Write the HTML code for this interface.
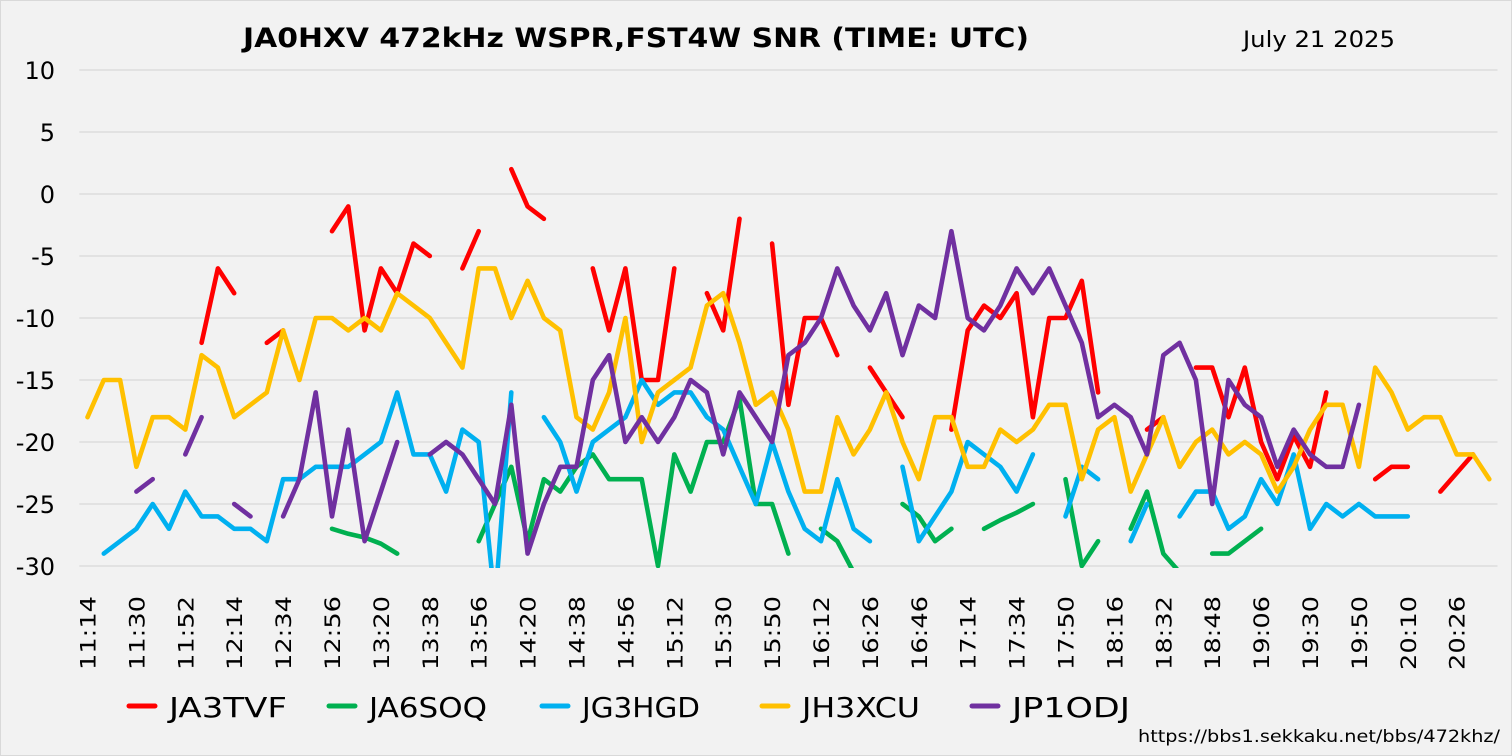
<!DOCTYPE html>
<html><head><meta charset="utf-8"><style>
html,body{margin:0;padding:0;background:#f2f2f2;}
svg{display:block;font-family:"DejaVu Sans","Liberation Sans",sans-serif;}
</style></head><body>
<svg id="chart" width="1512" height="756" viewBox="0 0 1512 756" xmlns="http://www.w3.org/2000/svg">
<rect x="0.5" y="0.5" width="1511" height="755" fill="#f2f2f2" stroke="#d9d9d9"/>
<text x="636" y="47" text-anchor="middle" font-size="27" font-weight="bold" textLength="786" lengthAdjust="spacingAndGlyphs">JA0HXV 472kHz WSPR,FST4W SNR (TIME: UTC)</text>
<text x="1243" y="47" font-size="22" textLength="152" lengthAdjust="spacingAndGlyphs">July 21 2025</text>
<text x="1138" y="742" font-size="17" textLength="362" lengthAdjust="spacingAndGlyphs">https://bbs1.sekkaku.net/bbs/472khz/</text>
<g id="grid"></g><g id="yticks"></g><g id="xticks"></g><g id="series"></g><g id="legend"></g>
</svg>
<script>
const tickLabels=["11:14","11:30","11:52","12:14","12:34","12:56","13:20","13:38","13:56","14:20","14:38","14:56","15:12","15:30","15:50","16:12","16:26","16:46","17:14","17:34","17:50","18:16","18:32","18:48","19:06","19:30","19:50","20:10","20:26"];
const yTicks=[10,5,0,-5,-10,-15,-20,-25,-30];
const seriesNames=["JA3TVF","JA6SOQ","JG3HGD","JH3XCU","JP1ODJ"];
const seriesColors=["#ff0000","#00b050","#00b0f0","#ffc000","#7030a0"];
const _=null;
const ja3tvf=[_,_,_,_,_,_,_,-12,-6,-8,_,-12,-11,_,_,-3,-1,-11,-6,-8,-4,-5,_,-6,-3,_,2,-1,-2,_,_,-6,-11,-6,-15,-15,-6,_,-8,-11,-2,_,-4,-17,-10,-10,-13,_,-14,-16,-18,_,_,-19,-11,-9,-10,-8,-18,-10,-10,-7,-16,_,_,-19,-18,_,-14,-14,-18,-14,-20,-23,-19.5,-22,-16,_,_,-23,-22,-22,_,-24,-22.5,-21,_];
const ja6soq=[_,_,_,_,_,_,_,_,_,_,_,_,_,_,_,-27,-27.4,-27.7,-28.2,-29,_,_,_,_,-28,-25,-22,-28,-23,-24,-22,-21,-23,-23,-23,-30,-21,-24,-20,-20,-16.5,-25,-25,-29,_,-27,-28,-30.5,_,_,-25,-26,-28,-27,_,-27,-26.3,-25.7,-25,_,-23,-30,-28,_,-27,-24,-29,-30.5,_,-29,-29,-28,-27,_,_,_,_,_,_,_,_,_,_,_,_,_,_];
const jg3hgd=[_,-29,-28,-27,-25,-27,-24,-26,-26,-27,-27,-28,-23,-23,-22,-22,-22,-21,-20,-16,-21,-21,-24,-19,-20,-33,-16,_,-18,-20,-24,-20,-19,-18,-15,-17,-16,-16,-18,-19,-22,-25,-20,-24,-27,-28,-23,-27,-28,_,-22,-28,-26,-24,-20,-21,-22,-24,-21,_,-26,-22,-23,_,-28,-25,_,-26,-24,-24,-27,-26,-23,-25,-21,-27,-25,-26,-25,-26,-26,-26,_,_,_,_,_];
const jh3xcu=[-18,-15,-15,-22,-18,-18,-19,-13,-14,-18,-17,-16,-11,-15,-10,-10,-11,-10,-11,-8,-9,-10,-12,-14,-6,-6,-10,-7,-10,-11,-18,-19,-16,-10,-20,-16,-15,-14,-9,-8,-12,-17,-16,-19,-24,-24,-18,-21,-19,-16,-20,-23,-18,-18,-22,-22,-19,-20,-19,-17,-17,-23,-19,-18,-24,-21,-18,-22,-20,-19,-21,-20,-21,-24,-22,-19,-17,-17,-22,-14,-16,-19,-18,-18,-21,-21,-23];
const jp1odj=[_,_,_,-24,-23,_,-21,-18,_,-25,-26,_,-26,-23,-16,-26,-19,-28,-24,-20,_,-21,-20,-21,-23,-25,-17,-29,-25,-22,-22,-15,-13,-20,-18,-20,-18,-15,-16,-21,-16,-18,-20,-13,-12,-10,-6,-9,-11,-8,-13,-9,-10,-3,-10,-11,-9,-6,-8,-6,-9,-12,-18,-17,-18,-21,-13,-12,-15,-25,-15,-17,-18,-22,-19,-21,-22,-22,-17,_,_,_,_,_,_,_,_];
const seriesData=[ja3tvf,ja6soq,jg3hgd,jh3xcu,jp1odj];

const NS="http://www.w3.org/2000/svg";
const plotL=79.3,plotR=1497.5,plotT=70,plotB=566;
const nCat=jh3xcu.length, catW=(plotR-plotL)/nCat;
const yMin=-30,yMax=10;
function xPos(i){return plotL+catW*(i+0.5);}
function yPos(v){return plotB-(v-yMin)/(yMax-yMin)*(plotB-plotT);}
function mk(tag,attrs,parent){const e=document.createElementNS(NS,tag);for(const k in attrs)e.setAttribute(k,attrs[k]);parent.appendChild(e);return e;}

const svg=document.getElementById('chart');
const defs=mk('defs',{},svg);
const cp=mk('clipPath',{id:'plotclip'},defs);
mk('rect',{x:plotL,y:plotT-10,width:plotR-plotL,height:plotB-plotT+12},cp);

const grid=document.getElementById('grid'),yt=document.getElementById('yticks');
yTicks.forEach(v=>{
  const l=mk('line',{x1:plotL,x2:plotR,y1:yPos(v),y2:yPos(v),stroke:'#d9d9d9','stroke-width':1.3},grid);
  
  
  const t=mk('text',{x:55,y:yPos(v)+9,'text-anchor':'end','font-size':24},yt);
  t.textContent=String(v);
  
  
});
const xt=document.getElementById('xticks');
tickLabels.forEach((lab,k)=>{
  const x=xPos(k*3)+8;
  const t=mk('text',{x:0,y:0,transform:`translate(${x},596) rotate(-90)`,'text-anchor':'end','font-size':21,textLength:74,lengthAdjust:'spacingAndGlyphs'},xt);
  t.textContent=lab;
  
  
});
const sg=document.getElementById('series');
sg.setAttribute('clip-path','url(#plotclip)');
seriesData.forEach((arr,s)=>{
  let segs=[],cur=[];
  arr.forEach((v,i)=>{if(v===null){if(cur.length)segs.push(cur);cur=[];}else cur.push([xPos(i),yPos(v)]);});
  if(cur.length)segs.push(cur);
  const g=mk('g',{},sg);
  
  
  segs.forEach(seg=>{
    if(seg.length<2)return;
    const p=mk('polyline',{points:seg.map(q=>q[0].toFixed(1)+','+q[1].toFixed(1)).join(' '),fill:'none',stroke:seriesColors[s],'stroke-width':4.6,'stroke-linejoin':'round','stroke-linecap':'round'},g);
    
    
  });
});
const lg=document.getElementById('legend');
const legX=[127,327,540,760,970];
seriesNames.forEach((n,s)=>{
  const g=mk('g',{},lg);
  
  
  mk('line',{x1:legX[s]+2,x2:legX[s]+28,y1:706,y2:706,stroke:seriesColors[s],'stroke-width':5,'stroke-linecap':'round'},g);
  const t=mk('text',{x:legX[s]+42,y:717,'font-size':28,textLength:118,lengthAdjust:'spacingAndGlyphs'},g);
  t.textContent=n;
});
</script>
</body></html>
